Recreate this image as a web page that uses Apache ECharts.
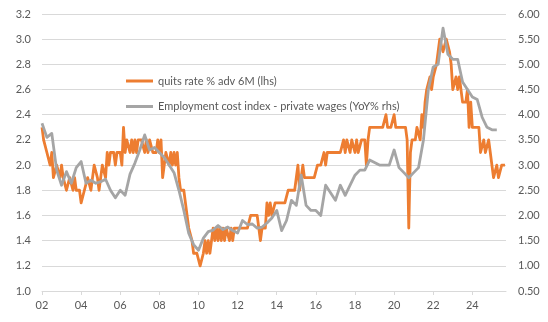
<!DOCTYPE html>
<html>
<head>
<meta charset="utf-8">
<script src="https://cdn.jsdelivr.net/npm/echarts@6/dist/echarts.min.js"></script>
<style>
html,body{margin:0;padding:0;background:#fff;}
#chart{width:548px;height:322px;}
</style>
</head>
<body>
<div id="chart"></div>
<script>
// Quits rate % advanced 6 months (monthly, starting Jan 2002), lhs
var quitsStartYear = 2002;
var quitsRate = [
  2.3, 2.2, 2.2, 2.1, 2.1, 2.0, 2.1, 1.9, 1.9, 2.0, 2.0, 1.9,
  2.0, 1.9, 1.9, 1.8, 1.8, 1.9, 1.9, 1.8, 1.9, 1.8, 1.8, 1.8,
  1.7, 1.7, 1.8, 1.8, 1.9, 1.9, 1.8, 1.9, 2.0, 2.0, 1.9, 1.8,
  1.9, 2.0, 2.0, 1.9, 2.1, 2.0, 2.1, 2.1, 2.1, 2.0, 2.1, 2.1,
  2.1, 2.0, 2.3, 2.1, 2.2, 2.2, 2.1, 2.2, 2.1, 2.2, 2.1, 2.2,
  2.2, 2.2, 2.2, 2.1, 2.2, 2.1, 2.2, 2.2, 2.1, 2.1, 2.1, 2.2,
  2.1, 2.2, 1.9, 2.0, 2.1, 2.1, 2.0, 2.1, 2.0, 2.1, 2.0, 2.1,
  1.9, 1.8, 1.8, 1.8, 1.7, 1.6, 1.5, 1.5, 1.4, 1.3, 1.3, 1.3,
  1.3, 1.2, 1.2, 1.3, 1.4, 1.3, 1.4, 1.3, 1.4, 1.5, 1.4, 1.5,
  1.4, 1.5, 1.4, 1.5, 1.4, 1.5, 1.5, 1.4, 1.5, 1.4, 1.5, 1.5,
  1.5, 1.5, 1.5, 1.5, 1.5, 1.5, 1.5, 1.5, 1.6, 1.6, 1.6, 1.6,
  1.6, 1.5, 1.4, 1.5, 1.5, 1.5, 1.7, 1.6, 1.7, 1.6, 1.6, 1.7,
  1.7, 1.7, 1.7, 1.7, 1.7, 1.7, 1.7, 1.8, 1.8, 1.8, 1.8, 1.8,
  1.9, 2.0, 1.8, 1.9, 2.0, 1.9, 1.9, 1.9, 1.9, 1.9, 1.9, 1.9,
  1.9, 2.0, 2.0, 2.0, 2.0, 2.1, 2.0, 2.1, 2.1, 2.1, 2.1, 2.1,
  2.1, 2.1, 2.1, 2.1, 2.1, 2.2, 2.1, 2.2, 2.2, 2.1, 2.2, 2.2,
  2.1, 2.2, 2.1, 2.1, 2.2, 2.2, 2.2, 2.0, 2.2, 2.3, 2.3, 2.3,
  2.3, 2.3, 2.3, 2.3, 2.3, 2.3, 2.3, 2.4, 2.3, 2.3, 2.3, 2.3,
  2.4, 2.3, 2.3, 2.3, 2.3, 2.3, 2.3, 2.3, 2.2, 1.5, 2.1, 2.2,
  2.2, 2.2, 2.3, 2.3, 2.2, 2.4, 2.3, 2.5, 2.6, 2.6, 2.7, 2.6,
  2.7, 2.7, 2.8, 2.9, 3.0, 3.0, 2.9, 2.9, 3.0, 3.0, 2.9, 2.8,
  2.6, 2.6, 2.7, 2.6, 2.7, 2.6, 2.5, 2.5, 2.5, 2.6, 2.3, 2.5,
  2.3, 2.3, 2.3, 2.3, 2.3, 2.1, 2.1, 2.2, 2.1, 2.1, 2.2, 2.1,
  2.1, 1.9, 1.9, 2.0, 1.9, 1.9, 2.0, 2.0, 2.0
];

// Employment cost index - private wages, YoY % (quarterly), rhs
var eciStartYear = 2002;
var eciWages = [
  3.83, 3.55, 3.63, 2.9, 2.6, 2.87, 2.64, 2.95, 3.07, 2.64,
  2.7, 2.64, 2.67, 2.72, 2.5, 2.35, 2.5, 2.4, 2.82, 3.04,
  3.3, 3.6, 3.3, 3.35, 3.25, 3.15, 3.0, 2.85, 2.5, 2.1,
  1.65, 1.42, 1.31, 1.55, 1.68, 1.71, 1.8, 1.72, 1.77, 1.7,
  1.65, 1.9, 1.82, 1.83, 1.75, 1.77, 1.85, 1.95, 2.1, 1.7,
  1.9, 2.3, 2.2, 2.8, 2.2, 2.1, 2.1, 2.0, 2.6, 2.45,
  2.3, 2.6, 2.4, 2.6, 2.8, 2.9, 2.9, 3.1, 3.05, 3.0,
  3.0, 3.0, 3.3, 2.95, 2.85, 2.75, 2.85, 2.95, 3.5, 4.5,
  4.95, 5.0, 5.72, 5.2, 5.1, 5.1, 4.65, 4.5, 4.35, 4.3,
  3.95, 3.75, 3.7, 3.7
];

var seriesNames = ['quits rate % adv 6M (lhs)', 'Employment cost index - private wages (YoY% rhs)'];
var xTickYears = [2002, 2004, 2006, 2008, 2010, 2012, 2014, 2016, 2018, 2020, 2022, 2024];
var xMin = 2002, xMax = 2025.72;

var quitsData = quitsRate.map(function (v, i) { return [quitsStartYear + i / 12, v]; });
var eciData = eciWages.map(function (v, i) { return [eciStartYear + i / 4, v]; });

var FONT = 'Lato';
var TXT = '#595959';
var GRIDC = '#d9d9d9';

var chart = echarts.init(document.getElementById('chart'), null, {renderer: 'canvas'});
chart.setOption({
  animation: false,
  backgroundColor: '#fff',
  textStyle: {fontFamily: FONT},
  grid: {left: 42, right: 42, top: 14, bottom: 31, containLabel: false},
  legend: {
    orient: 'vertical', left: 121, top: 69,
    itemWidth: 27, itemHeight: 3, itemGap: 11.5, icon: 'rect',
    textStyle: {fontFamily: FONT, fontSize: 11, color: TXT, lineHeight: 14},
    data: seriesNames
  },
  xAxis: {
    type: 'value', min: xMin, max: xMax, interval: 2,
    axisLine: {show: true, lineStyle: {color: GRIDC, width: 1}},
    axisTick: {show: true, length: 4, lineStyle: {color: GRIDC}, customValues: xTickYears},
    axisLabel: {
      customValues: xTickYears, color: TXT, fontFamily: FONT, fontSize: 11, margin: 9,
      formatter: function (v) { var y = Math.round(v) % 100; return (y < 10 ? '0' : '') + y; }
    },
    splitLine: {show: false}
  },
  yAxis: [
    {
      type: 'value', min: 1.0, max: 3.2, interval: 0.2, position: 'left',
      axisLine: {show: false}, axisTick: {show: false},
      axisLabel: {color: TXT, fontFamily: FONT, fontSize: 11, margin: 11,
        formatter: function (v) { return v.toFixed(1); }},
      splitLine: {show: true, lineStyle: {color: GRIDC, width: 1}}
    },
    {
      type: 'value', min: 0.5, max: 6.0, interval: 0.5, position: 'right',
      axisLine: {show: false}, axisTick: {show: false},
      axisLabel: {color: TXT, fontFamily: FONT, fontSize: 11, margin: 12,
        formatter: function (v) { return v.toFixed(2); }},
      splitLine: {show: false}
    }
  ],
  series: [
    {
      name: seriesNames[0], type: 'line', yAxisIndex: 0, data: quitsData,
      showSymbol: false, symbol: 'none', color: '#ED7D31',
      lineStyle: {color: '#ED7D31', width: 2.8, join: 'round'}
    },
    {
      name: seriesNames[1], type: 'line', yAxisIndex: 1, data: eciData,
      showSymbol: false, symbol: 'none', color: '#A5A5A5',
      lineStyle: {color: '#A5A5A5', width: 2.8, join: 'round'}
    }
  ]
});
</script>
</body>
</html>
